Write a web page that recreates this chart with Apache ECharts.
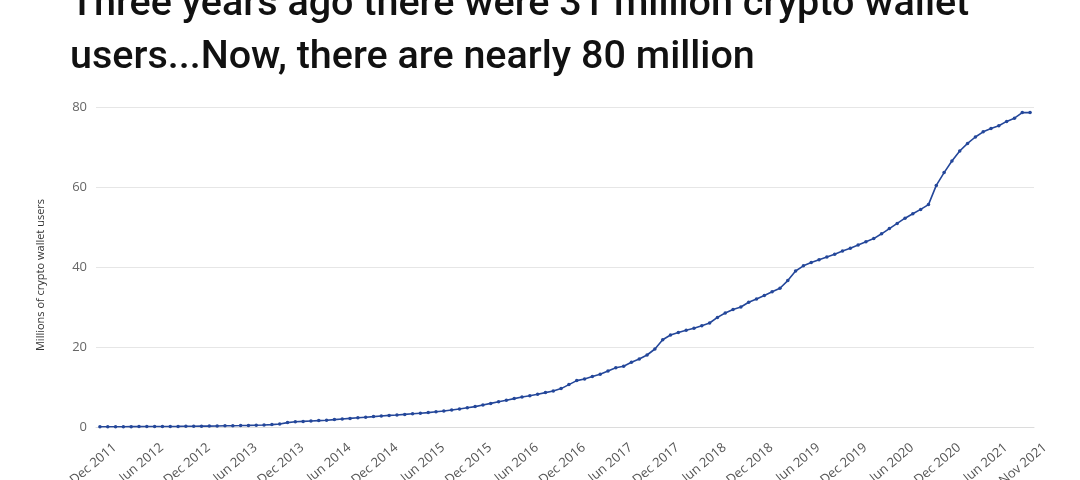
<!DOCTYPE html>
<html>
<head>
<meta charset="utf-8">
<script src="https://cdn.jsdelivr.net/npm/echarts@6/dist/echarts.min.js"></script>
<style>
html,body{margin:0;padding:0;background:#fff;}
#chart{width:1080px;height:480px;}
</style>
</head>
<body>
<div id="chart"></div>
<script>
const titleText = 'Three years ago there were 31 million crypto wallet\nusers...Now, there are nearly 80 million';
const yAxisName = 'Millions of crypto wallet users';
const monthNames = ['Jan','Feb','Mar','Apr','May','Jun','Jul','Aug','Sep','Oct','Nov','Dec'];
// Monthly categories Dec 2011 .. Nov 2021
const categories = [];
for (let k = 0; k < 120; k++) {
  const m = (11 + k) % 12;
  const y = 2011 + Math.floor((11 + k) / 12);
  categories.push(monthNames[m] + ' ' + y);
}
const walletUsers = [
  0.05,0.06,0.07,0.08,0.09,0.10,            // Dec 2011 - May 2012
  0.11,0.12,0.13,0.14,0.15,0.17,            // Jun 2012 - Nov 2012
  0.19,0.21,0.23,0.26,0.30,0.33,            // Dec 2012 - May 2013
  0.36,0.40,0.45,0.50,0.60,0.75,            // Jun 2013 - Nov 2013
  1.10,1.30,1.40,1.50,1.60,1.70,            // Dec 2013 - May 2014
  1.85,2.00,2.15,2.30,2.45,2.60,            // Jun 2014 - Nov 2014
  2.75,2.90,3.00,3.15,3.30,3.45,            // Dec 2014 - May 2015
  3.60,3.80,4.00,4.25,4.50,4.80,            // Jun 2015 - Nov 2015
  5.10,5.50,5.90,6.30,6.70,7.10,            // Dec 2015 - May 2016
  7.50,7.80,8.20,8.60,9.00,9.60,            // Jun 2016 - Nov 2016
  10.6,11.6,12.0,12.6,13.2,14.0,            // Dec 2016 - May 2017
  14.8,15.2,16.2,17.0,18.0,19.5,            // Jun 2017 - Nov 2017
  21.8,23.0,23.6,24.2,24.7,25.3,            // Dec 2017 - May 2018
  26.0,27.4,28.5,29.4,30.0,31.2,            // Jun 2018 - Nov 2018
  32.0,32.9,33.8,34.7,36.6,39.0,            // Dec 2018 - May 2019
  40.3,41.1,41.8,42.5,43.2,44.0,            // Jun 2019 - Nov 2019
  44.7,45.5,46.3,47.1,48.3,49.6,            // Dec 2019 - May 2020
  50.9,52.2,53.3,54.4,55.6,60.4,            // Jun 2020 - Nov 2020
  63.6,66.5,69.0,70.9,72.5,73.8,            // Dec 2020 - May 2021
  74.6,75.3,76.4,77.2,78.6,78.6             // Jun 2021 - Nov 2021
];
const yMin = 0, yMax = 80, yInterval = 20;

const chart = echarts.init(document.getElementById('chart'), null, {renderer: 'canvas'});
chart.setOption({
  backgroundColor: '#ffffff',
  animation: false,
  title: {
    text: titleText,
    left: 65,
    top: -26,
    textStyle: {
      fontFamily: 'Roboto, "Noto Sans", sans-serif',
      fontSize: 39.5,
      fontWeight: 500,
      color: '#111111',
      lineHeight: 53
    }
  },
  grid: {left: 96, right: 46, top: 107, bottom: 53, containLabel: false, outerBoundsMode: 'none'},
  xAxis: {
    type: 'category',
    data: categories,
    boundaryGap: true,
    axisLine: {show: true, lineStyle: {color: '#dcdcdc', width: 1}},
    axisTick: {show: false},
    axisLabel: {
      interval: function (i) { return i % 6 === 0 || i === categories.length - 1; },
      rotate: 40,
      align: 'right',
      verticalAlign: 'top',
      padding: [0, -14, 0, 0],
      margin: 23,
      fontFamily: '"Open Sans", sans-serif',
      fontSize: 13,
      color: '#555555'
    }
  },
  yAxis: {
    type: 'value',
    min: yMin, max: yMax, interval: yInterval,
    name: yAxisName,
    nameLocation: 'middle',
    nameGap: 50,
    nameTextStyle: {fontFamily: '"Open Sans", sans-serif', fontSize: 11, color: '#333333', padding: [0, 16, 0, 0]},
    axisLine: {show: false},
    axisTick: {show: false},
    axisLabel: {fontFamily: '"Open Sans", sans-serif', fontSize: 13, color: '#666666', margin: 9},
    splitLine: {lineStyle: {color: '#e6e6e6', width: 1}}
  },
  series: [{
    type: 'line',
    data: walletUsers,
    symbol: 'circle',
    symbolSize: 3.5,
    showAllSymbol: true,
    lineStyle: {color: '#24479a', width: 1.6},
    itemStyle: {color: '#24479a'}
  }]
});
</script>
</body>
</html>
